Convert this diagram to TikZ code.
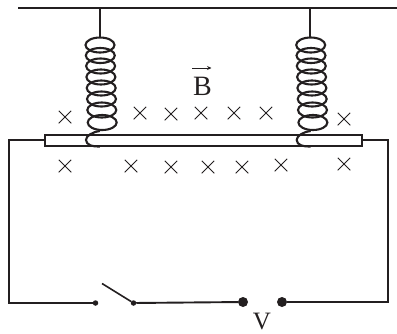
\documentclass[tikz,border=0pt]{standalone}
\usepackage{fontspec}
\setmainfont{Liberation Serif}
\usetikzlibrary{shapes.misc,arrows.meta}
\definecolor{ink}{RGB}{35,31,32}
\tikzset{
  wire/.style={draw=ink,line width=1.9bp},
  coilturn/.style={draw=ink,line width=2.1bp},
  crossmark/.style={cross out,draw=ink,line width=1bp,minimum size=12.5bp,inner sep=0pt,outer sep=0pt},
  bigdot/.style={circle,fill=ink,minimum size=10bp,inner sep=0pt,outer sep=0pt},
  smalldot/.style={circle,fill=ink,minimum size=5.5bp,inner sep=0pt,outer sep=0pt},
  lab/.style={text=ink,font=\fontsize{28bp}{30bp}\selectfont,inner sep=0pt},
  vlab/.style={text=ink,font=\fontsize{25bp}{26bp}\selectfont,inner sep=0pt},
  rod/.style={draw=ink,fill=white,line width=1.7bp}
}
\begin{document}
\begin{tikzpicture}[x=1bp,y=-1bp]
\useasboundingbox (0,0) rectangle (397,334);
% support
\coordinate (topL) at (18,8);
\coordinate (topR) at (397,8);
\draw[wire] (topL) -- (topR);
\coordinate (h1) at (100,8);
\coordinate (h2) at (310,8);
\coordinate (c1) at (100,37);
\coordinate (c2) at (310,37);
\draw[wire] (h1) -- (c1);
\draw[wire] (h2) -- (c2);
% circuit
\node[smalldot] (sa) at (95.5,303) {};
\node[smalldot] (sb) at (133.5,303) {};
\node[bigdot] (va) at (243,302) {};
\node[bigdot] (vb) at (282,302) {};
\coordinate (sw) at (102,283.5);
\coordinate (wl) at (45,140);
\coordinate (wr) at (362,140);
\draw[wire] (wl) -- (9,140) -- (9,303) -- (sa);
\draw[wire,line width=1.6bp] (sb) -- (sw);
\draw[wire] (sb) -- (va);
\draw[wire] (vb) -- (388,302) -- (388,140) -- (wr);
% rod
\node[rod,minimum width=317bp,minimum height=10.5bp,inner sep=0pt,outer sep=0pt] (rodbar) at (203.5,140.5) {};
% coils
\foreach \cx in {100,310.7}{
  \foreach \cy/\dx in {45/0,55.5/0.3,66/0.6,77/0.9,88/1.2,99/1.5,110/1.8,122.5/2.2}{
    \draw[coilturn] (\cx+\dx,\cy) ellipse [x radius=14.5,y radius=7.5];
  }
  \draw[coilturn] (\cx,131) .. controls (\cx-8,132) and (\cx-14,136) .. (\cx-14,140)
     .. controls (\cx-14,145) and (\cx-7,147) .. (\cx,146.5);
}
% field marks
\foreach \n/\x/\y in {a/65/117,b/140/113,c/171/114,d/201/113,e/234/113,f/266/113,g/344/119,
                      h/65/166,i/131/166,j/171/167,k/208/167,l/242/167,m/281/165,n/344/164}{
  \node[crossmark] (x\n) at (\x,\y) {};
}
% labels
\node[lab] (B) at (202.5,86.5) {B};
\coordinate (arL) at (192,68);
\coordinate (arR) at (211.5,68);
\draw[draw=ink,line width=0.9bp,-{Stealth[length=4.5bp,width=4bp]}] (arL) -- (arR);
\node[vlab] (V) at (262,321) {V};
\end{tikzpicture}
\end{document}
